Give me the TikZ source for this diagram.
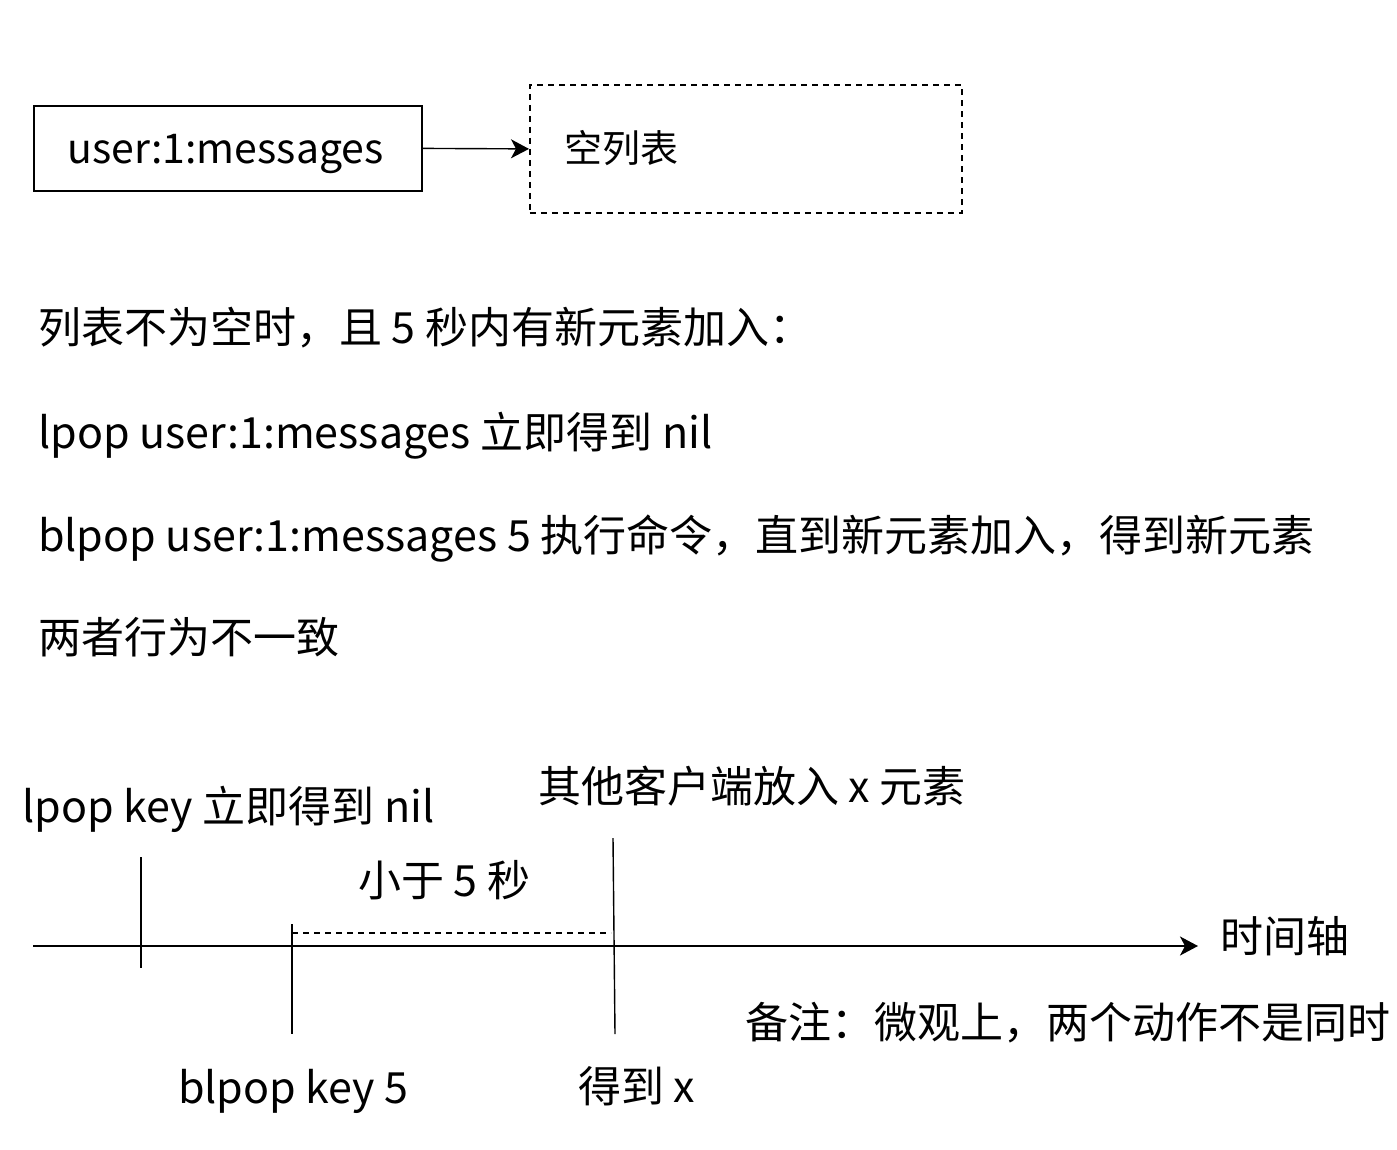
\documentclass[tikz,border=0pt]{standalone}
\usepackage{fontspec}
\setmainfont{Noto Sans CJK SC}
\usetikzlibrary{arrows.meta}
\begin{document}
\begin{tikzpicture}[x=1pt,y=-1pt,
  txt/.style={inner sep=0pt, anchor=base west, font=\fontsize{43}{50}\selectfont},
  boxtxt/.style={inner sep=0pt, anchor=base west, font=\fontsize{41}{48}\selectfont},
  boxline/.style={line width=1.8pt},
  tickline/.style={line width=1.4pt},
  dashline/.style={dash pattern=on 6pt off 5pt},
  tip/.style={-{Stealth[length=18pt,width=19pt,inset=5pt]}}]
\useasboundingbox (0,0) rectangle (1397,1150);
% top boxes
\node[draw, boxline, minimum width=388pt, minimum height=85pt, anchor=north west, inner sep=0pt] (key) at (33,105) {};
\node[boxtxt, anchor=base] (keytxt) at (225.5,164) {user:1:messages};
\node[draw, boxline, dashline, minimum width=432pt, minimum height=128pt, anchor=north west, inner sep=0pt] (list) at (529,84) {};
\node[boxtxt, font=\fontsize{38}{46}\selectfont] (listtxt) at (564,163) {空列表};
\draw[line width=1.4pt, tip] (key.east) -- (list.west);
% text lines
\node[txt] (l1) at (38,343) {列表不为空时，且 5 秒内有新元素加入：};
\node[txt] (l2) at (38,448) {lpop user:1:messages 立即得到 nil};
\node[txt] (l3) at (38,551) {blpop user:1:messages 5 执行命令，直到新元素加入，得到新元素};
\node[txt] (l4) at (38,653) {两者行为不一致};
% timeline
\coordinate (a0) at (33,946);
\coordinate (a1) at (1198,946);
\draw[line width=2pt, tip] (a0) -- (a1);
\coordinate (t1a) at (141,857); \coordinate (t1b) at (141,968);
\coordinate (t2a) at (292,924); \coordinate (t2b) at (292,1034);
\coordinate (t3a) at (613,838); \coordinate (t3b) at (615,1034);
\coordinate (d0) at (292,933); \coordinate (d1) at (611,933);
\draw[tickline] (t1a) -- (t1b);
\draw[tickline] (t2a) -- (t2b);
\draw[tickline] (t3a) -- (t3b);
\draw[tickline, dashline] (d0) -- (d1);
\node[txt] (lp) at (22,822) {lpop key 立即得到 nil};
\node[txt] (oc) at (538,802) {其他客户端放入 x 元素};
\node[txt] (lt) at (358,896) {小于 5 秒};
\node[txt] (ax) at (1220,952) {时间轴};
\node[txt] (nt) at (745,1038) {备注：微观上，两个动作不是同时};
\node[txt] (bk) at (178,1103) {blpop key 5};
\node[txt] (gx) at (578,1102) {得到 x};
\end{tikzpicture}
\end{document}
